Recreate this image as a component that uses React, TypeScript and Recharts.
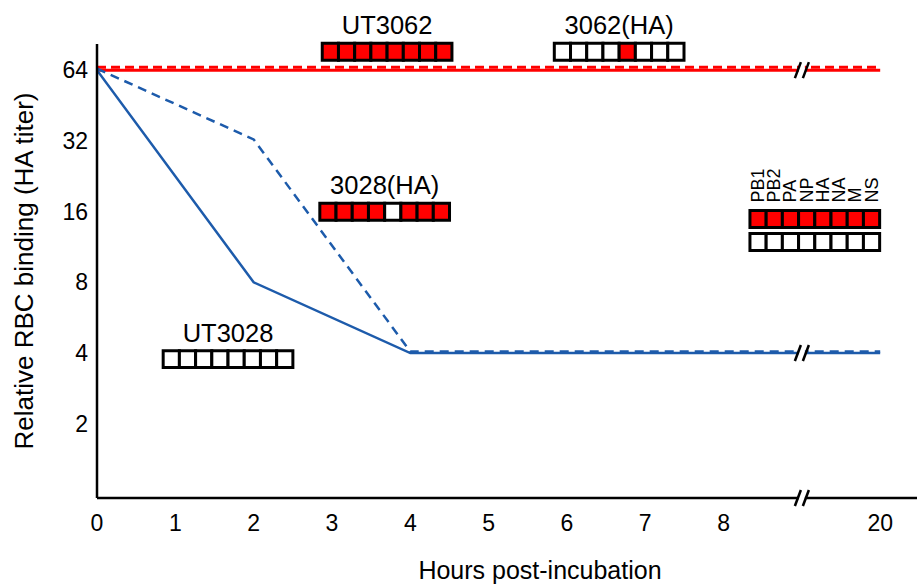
import {
  Label,
  Line,
  LineChart,
  ReferenceArea,
  ReferenceDot,
  XAxis,
  YAxis,
} from 'recharts';

// hours post-incubation (20 h sits after the axis break)
const hours = [0, 2, 4, 20];

// HA titers
const ut3062Titer = [64, 64, 64, 64];
const ha3062Titer = [64, 64, 64, 64];
const ha3028Titer = [64, 32, 4, 4];
const ut3028Titer = [64, 8, 4, 4];

const xTickHours = [0, 1, 2, 3, 4, 5, 6, 7, 8, 20];
const yTickTiters = [2, 4, 8, 16, 32, 64];

const segments = ['PB1', 'PB2', 'PA', 'NP', 'HA', 'NA', 'M', 'NS'];

// 1 = segment from the red-lineage virus, 0 = white
const ut3062Genotype = [1, 1, 1, 1, 1, 1, 1, 1];
const ha3062Genotype = [0, 0, 0, 0, 1, 0, 0, 0];
const ha3028Genotype = [1, 1, 1, 1, 0, 1, 1, 1];
const ut3028Genotype = [0, 0, 0, 0, 0, 0, 0, 0];
const keyRedGenotype = [1, 1, 1, 1, 1, 1, 1, 1];
const keyWhiteGenotype = [0, 0, 0, 0, 0, 0, 0, 0];

const RED = '#ff0000';
const BLUE = '#1d5bab';
const LAST_HOUR_SLOT = 10;
const BREAK_SLOT = 9;

const toSlot = (h: number) => (h > 8 ? LAST_HOUR_SLOT : h);

const chartData = hours.map((h, i) => ({
  slot: toSlot(h),
  ut3062: Math.log2(ut3062Titer[i]),
  ha3062: Math.log2(ha3062Titer[i]),
  ha3028: Math.log2(ha3028Titer[i]),
  ut3028: Math.log2(ut3028Titer[i]),
}));

// genotype boxes: top-left corner in chart units
const CELL_W = 0.207;
const ROW_H = 0.24;
const boxes = [
  { name: 'UT3062', genotype: ut3062Genotype, x: 2.876, y: 6.379 },
  { name: '3062(HA)', genotype: ha3062Genotype, x: 5.839, y: 6.379 },
  { name: '3028(HA)', genotype: ha3028Genotype, x: 2.845, y: 4.119 },
  { name: 'UT3028', genotype: ut3028Genotype, x: 0.845, y: 2.034 },
  { name: '', genotype: keyRedGenotype, x: 8.337, y: 4.016, names: true },
  { name: '', genotype: keyWhiteGenotype, x: 8.337, y: 3.691 },
];

const BreakMark = (props: any) => {
  const { cx, cy } = props;
  return (
    <g>
      <rect x={cx - 3} y={cy - 6} width={6} height={12} fill="#fff" />
      <line x1={cx - 7} y1={cy + 8} x2={cx - 1} y2={cy - 8} stroke="#000" strokeWidth={2.5} />
      <line x1={cx + 1} y1={cy + 8} x2={cx + 7} y2={cy - 8} stroke="#000" strokeWidth={2.5} />
    </g>
  );
};

const SegmentName = (text: string) => (props: any) => {
  const { viewBox } = props;
  const cx = viewBox.x + viewBox.width / 2;
  const y = viewBox.y - 8;
  return (
    <text
      x={cx}
      y={y}
      transform={`rotate(-90, ${cx}, ${y})`}
      dominantBaseline="central"
      fontSize={18}
      fill="#000"
    >
      {text}
    </text>
  );
};

const App = () => {
  return (
    <div
      style={{
        position: 'absolute',
        left: 0,
        top: 0,
        fontFamily: "'Liberation Sans', Arial, sans-serif",
      }}
    >
      <LineChart
        width={917}
        height={585}
        data={chartData}
        margin={{ top: 44, right: 0, left: 0, bottom: 0 }}
      >
        <XAxis
          dataKey="slot"
          type="number"
          domain={[0, 10.47]}
          ticks={xTickHours.map(toSlot)}
          tickFormatter={(v) => String(xTickHours[xTickHours.map(toSlot).indexOf(v)])}
          tick={{ fontSize: 23, fill: '#000' }}
          tickLine={false}
          tickMargin={11}
          axisLine={{ stroke: '#000', strokeWidth: 2.5 }}
          height={87}
          allowDataOverflow
        >
          <Label
            content={() => (
              <text x={540} y={579} textAnchor="middle" fontSize={25} fill="#000">
                Hours post-incubation
              </text>
            )}
          />
        </XAxis>
        <YAxis
          type="number"
          domain={[-0.05, 6.37]}
          ticks={yTickTiters.map((t) => Math.log2(t))}
          tickFormatter={(v) => String(2 ** v)}
          tick={{ fontSize: 23, fill: '#000' }}
          tickLine={false}
          tickMargin={3}
          axisLine={{ stroke: '#000', strokeWidth: 2.5 }}
          width={97}
          allowDataOverflow
        >
          <Label
            content={() => (
              <text
                x={33}
                y={271}
                transform="rotate(-90, 33, 271)"
                textAnchor="middle"
                fontSize={26}
                fill="#000"
              >
                Relative RBC binding (HA titer)
              </text>
            )}
          />
        </YAxis>

        <Line
          dataKey="ut3062"
          stroke={RED}
          strokeWidth={3}
          dot={false}
          activeDot={false}
          isAnimationActive={false}
        />
        <Line
          dataKey="ha3062"
          stroke={RED}
          strokeWidth={3}
          strokeDasharray="9 5"
          transform="translate(0,-3)"
          dot={false}
          activeDot={false}
          isAnimationActive={false}
        />
        <Line
          dataKey="ut3028"
          stroke={BLUE}
          strokeWidth={2.5}
          dot={false}
          activeDot={false}
          isAnimationActive={false}
        />
        <Line
          dataKey="ha3028"
          stroke={BLUE}
          strokeWidth={2.5}
          strokeDasharray="9 6"
          transform="translate(0,-1.5)"
          dot={false}
          activeDot={false}
          isAnimationActive={false}
        />

        <ReferenceDot x={BREAK_SLOT} y={-0.05} ifOverflow="visible" shape={BreakMark} />
        <ReferenceDot x={BREAK_SLOT} y={Math.log2(64)} ifOverflow="visible" shape={BreakMark} />
        <ReferenceDot x={BREAK_SLOT} y={Math.log2(4)} ifOverflow="visible" shape={BreakMark} />

        {boxes.map((b) => (
          <ReferenceArea
            key={`row-${b.name}-${b.y}`}
            x1={b.x}
            x2={b.x + CELL_W * b.genotype.length}
            y1={b.y - ROW_H}
            y2={b.y}
            fill="none"
            stroke="none"
            ifOverflow="visible"
            label={b.name ? { value: b.name, position: 'top', offset: 9, fontSize: 25.5, fill: '#000' } : undefined}
          />
        ))}
        {boxes.flatMap((b) =>
          b.genotype.map((g, i) => (
            <ReferenceArea
              key={`cell-${b.name}-${b.y}-${i}`}
              x1={b.x + CELL_W * i}
              x2={b.x + CELL_W * (i + 1)}
              y1={b.y - ROW_H}
              y2={b.y}
              fill={g ? RED : '#fff'}
              fillOpacity={1}
              stroke="#000"
              strokeWidth={3}
              ifOverflow="visible"
              label={b.names ? SegmentName(segments[i]) : undefined}
            />
          )),
        )}
      </LineChart>
    </div>
  );
};

export default App;
